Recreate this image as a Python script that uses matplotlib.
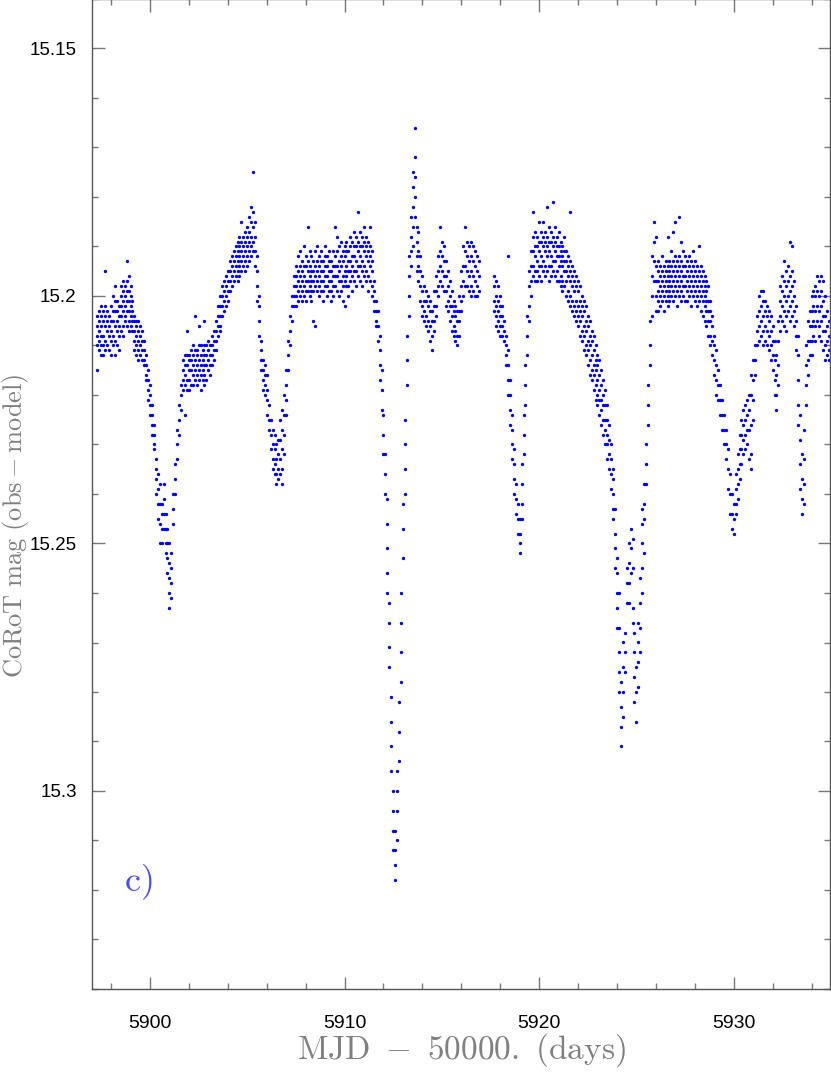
import matplotlib
matplotlib.use('Agg')
import matplotlib.pyplot as plt
from matplotlib.ticker import MultipleLocator, FuncFormatter

plt.rcParams['mathtext.fontset'] = 'cm'

# CoRoT light curve
# (t [MJD-50000], list of offsets in mmag from 15.200)
seg_5897 = [
    (5897.3, [4, 6, 8, 10, 15]), (5897.4, [3, 5, 7, 9, 11]), (5897.5, [2, 4, 6, 8, 10, 12]),
    (5897.6, [3, 5, 8, 10, 12]), (5897.7, [-5, 2, 4, 6, 9, 11]), (5897.8, [3, 5, 7, 10]),
    (5897.9, [4, 6, 8, 11]), (5898.0, [2, 5, 7, 9, 12]), (5898.1, [0, 3, 5, 8, 10]),
    (5898.2, [-2, 1, 3, 6, 9, 12]), (5898.3, [1, 3, 5, 7, 10]), (5898.4, [2, 4, 6, 8, 11]),
    (5898.5, [-2, 0, 2, 4, 7]), (5898.6, [-3, -1, 1, 3, 6, 8]), (5898.7, [-2, 0, 2, 4, 5]),
    (5898.8, [-7, -3, -1, 1, 3, 6]), (5898.9, [-4, -1, 1, 3, 5, 7]), (5899.0, [-2, 0, 2, 4, 6]),
    (5899.1, [1, 3, 5, 7]), (5899.2, [4, 5, 7, 9, 11]), (5899.3, [5, 6, 8, 10, 12]),
    (5899.4, [5, 7, 9, 11, 13]), (5899.5, [6, 8, 10, 12]), (5899.6, [7, 9, 11, 13]),
    (5899.7, [9, 11, 13, 14]), (5899.8, [12, 14, 16, 17]), (5899.9, [15, 17, 19, 21]),
    (5900.0, [18, 20, 22, 24]), (5900.1, [22, 24, 26, 28]), (5900.2, [26, 28, 30, 31]),
    (5900.3, [33, 35, 37, 40]), (5900.4, [36, 39, 42, 45]), (5900.5, [38, 42, 46, 50]),
    (5900.6, [42, 44, 47, 50]), (5900.7, [38, 41, 44, 47]), (5900.8, [44, 47, 50, 52]),
    (5900.9, [47, 50, 53, 56]), (5901.0, [50, 54, 57, 60, 63]), (5901.1, [52, 55, 58, 61]),
    (5901.2, [40, 43, 46]), (5901.3, [34, 37, 40]), (5901.4, [27, 30, 33]),
    (5901.5, [22, 25, 28]), (5901.6, [18, 20, 23]), (5901.7, [13, 15, 17, 19]),
]
seg_5902 = [
    (5901.8, [12, 14, 16, 18, 24]), (5901.9, [7, 12, 14, 17, 19]), (5902.0, [12, 13, 15, 17, 19]),
    (5902.1, [11, 13, 15, 18]), (5902.2, [10, 12, 14, 16, 18]), (5902.3, [4, 11, 13, 15, 17]),
    (5902.4, [11, 12, 14, 16, 18]), (5902.5, [6, 10, 13, 15, 17]), (5902.6, [10, 12, 14, 16, 19]),
    (5902.7, [11, 13, 15, 17]), (5902.8, [5, 10, 12, 14, 16, 18]), (5902.9, [10, 12, 14, 17]),
    (5903.0, [9, 11, 13, 15]), (5903.1, [10, 12, 14, 16]), (5903.2, [8, 10, 12, 14]),
    (5903.3, [7, 9, 11, 13]), (5903.4, [5, 7, 9, 11]), (5903.5, [2, 4, 6, 8]),
    (5903.6, [0, 2, 4, 6, 7]), (5903.7, [-2, 0, 2, 4]), (5903.8, [-3, -1, 1, 3]),
    (5903.9, [-4, -2, 0, 2]), (5904.0, [-5, -3, -1, 1]), (5904.1, [-7, -5, -3, -1]),
    (5904.2, [-8, -6, -4, -2]), (5904.3, [-9, -7, -5, -3]), (5904.4, [-10, -8, -6, -4]),
    (5904.5, [-11, -9, -7, -5, -3]), (5904.6, [-12, -10, -8, -6, -4]), (5904.7, [-15, -11, -9, -7, -5]),
    (5904.8, [-12, -10, -8, -6]), (5904.9, [-13, -11, -9, -7, -5]), (5905.0, [-14, -12, -10, -8, -6]),
    (5905.1, [-16, -13, -11, -9, -7]), (5905.2, [-18, -15, -12, -10, -8]), (5905.3, [-25, -17, -14, -11, -9]),
    (5905.4, [-15, -12, -9, -6]), (5905.5, [-8, -5, -2, 1]), (5905.6, [0, 2, 5, 8]),
    (5905.7, [9, 11, 13, 15]), (5905.8, [13, 15, 17, 19]), (5905.9, [14, 16, 18, 20]),
    (5906.0, [16, 19, 21, 24]), (5906.1, [22, 25, 27]), (5906.2, [25, 28, 31]),
    (5906.3, [27, 30, 33, 35]), (5906.4, [28, 31, 34, 36]), (5906.5, [30, 33, 36, 38]),
    (5906.6, [29, 32, 35, 37]), (5906.7, [25, 29, 33, 36]), (5906.8, [23, 27, 31, 35, 38]),
    (5906.9, [20, 24, 28, 32]), (5907.0, [15, 18, 21, 24]), (5907.1, [9, 12, 15]),
    (5907.2, [4, 7, 10]), (5907.3, [0, 2, 5]), (5907.4, [-4, -2, 0, 2]),
]
seg_5908 = [
    (5907.5, [-6, -4, -2, 0, 2]), (5907.6, [-8, -5, -3, -1, 1]), (5907.7, [-9, -6, -4, -2, 0]),
    (5907.8, [-7, -5, -3, -1, 1]), (5907.9, [-10, -6, -4, -2, 0]), (5908.0, [-8, -6, -3, -1, 1]),
    (5908.1, [-14, -7, -5, -3, -1]), (5908.2, [-9, -6, -4, -2, 0]), (5908.3, [-8, -5, -3, -1, 1]),
    (5908.4, [-7, -5, -3, -1, 5]), (5908.5, [-9, -6, -4, -2, 6]), (5908.6, [-10, -7, -5, -3, -1]),
    (5908.7, [-8, -6, -4, -2, 0]), (5908.8, [-9, -7, -5, -3, -1]), (5908.9, [-7, -5, -3, -1, 1]),
    (5909.0, [-10, -8, -6, -4, -2]), (5909.1, [-8, -6, -4, -2, 0]), (5909.2, [-9, -7, -5, -3, -1]),
    (5909.3, [-7, -5, -3, -1, 1]), (5909.4, [-9, -6, -4, -2, 0]), (5909.5, [-14, -8, -6, -4, -2]),
    (5909.6, [-12, -9, -6, -4, -1]), (5909.7, [-10, -7, -5, -3, 0]), (5909.8, [-11, -8, -6, -3, -1]),
    (5909.9, [-9, -7, -4, -2, 1]), (5910.0, [-10, -8, -5, -3, 2]), (5910.1, [-11, -9, -6, -4, -2]),
    (5910.2, [-9, -7, -5, -2, 0]), (5910.3, [-12, -10, -7, -5, -3]), (5910.4, [-11, -8, -6, -4, -1]),
    (5910.5, [-13, -10, -8, -5, -3]), (5910.6, [-12, -10, -7, -5, -2]), (5910.7, [-17, -11, -9, -6, -4]),
    (5910.8, [-13, -10, -8, -6, -3]), (5910.9, [-12, -10, -7, -5, -2]), (5911.0, [-14, -11, -9, -6, -4]),
    (5911.1, [-12, -10, -8, -5, -3]), (5911.2, [-11, -9, -7, -4, -1]), (5911.3, [-14, -10, -8, -6, -3]),
    (5911.4, [-9, -7, -5, -2, 0]), (5911.5, [-3, -1, 1, 3]), (5911.6, [1, 3, 5, 6]),
]
seg_5912 = [
    (5911.7, [3, 6, 9]), (5911.8, [8, 11, 14, 17]), (5911.9, [15, 19, 23]),
    (5912.0, [24, 28, 32]), (5912.1, [32, 36, 40]), (5912.2, [41, 46, 51, 56, 60]),
    (5912.3, [62, 66, 71, 75]), (5912.4, [81, 86, 91, 96]), (5912.5, [100, 104, 108, 112]),
    (5912.6, [108, 112, 115, 118]), (5912.7, [96, 100, 104, 110]), (5912.8, [82, 88, 94]),
    (5912.9, [60, 66, 72, 78]), (5913.0, [42, 47, 53]), (5913.1, [25, 30, 35, 40]),
    (5913.2, [8, 13, 18]), (5913.3, [-8, -4, 0, 4]), (5913.4, [-16, -12, -9, -6]),
    (5913.5, [-25, -22, -18, -14, -10]), (5913.6, [-34, -28, -24, -20, -16]), (5913.7, [-14, -11, -8, -5]),
    (5913.8, [-13, -9, -6, -3]), (5913.9, [-8, -5, -2, 1]), (5914.0, [-4, -1, 2, 4]),
    (5914.1, [-2, 1, 3, 5]), (5914.2, [-1, 1, 4, 6]), (5914.3, [0, 2, 5, 7]),
    (5914.4, [1, 3, 6, 9]), (5914.5, [3, 5, 8, 11]), (5914.6, [-1, 2, 5, 7]),
    (5914.7, [-4, -1, 2, 4]), (5914.8, [-8, -5, -2, 0]), (5914.9, [-14, -9, -6, -3]),
    (5915.0, [-11, -8, -5, -2]), (5915.1, [-10, -7, -4, -1]), (5915.2, [-7, -4, -1, 2]),
    (5915.3, [-5, -2, 1, 3]), (5915.4, [-3, 0, 2, 5]), (5915.5, [-1, 2, 4, 7]),
    (5915.6, [1, 3, 6, 8]), (5915.7, [2, 4, 7, 9]), (5915.8, [3, 5, 8, 10]),
    (5915.9, [0, 3, 5, 8]), (5916.0, [-5, -2, 1, 3]), (5916.1, [-10, -6, -3, 0]),
    (5916.2, [-14, -9, -6, -2]), (5916.3, [-11, -8, -5, -2]), (5916.4, [-10, -7, -4, -1]),
    (5916.5, [-11, -8, -5, -2, 0]), (5916.6, [-10, -7, -4, -1]), (5916.7, [-9, -6, -3, 0]),
    (5916.8, [-8, -5, -2, 0]), (5916.9, [-7, -4, -1]),
]
seg_5918 = [
    (5917.7, [-4, -2, 1, 3]), (5917.8, [-3, 0, 2, 4, 6]), (5917.9, [-2, 1, 3, 5, 7]),
    (5918.0, [0, 2, 4, 6, 8]), (5918.1, [2, 4, 6, 8]), (5918.2, [5, 7, 9]),
    (5918.3, [8, 10, 12, 14]), (5918.4, [-8, 11, 14, 17, 20]), (5918.5, [17, 20, 23, 26]),
    (5918.6, [24, 27, 30, 33]), (5918.7, [31, 34, 37, 40]), (5918.8, [38, 41, 44]),
    (5918.9, [42, 45, 48]), (5919.0, [45, 48, 50, 52]), (5919.1, [34, 38, 42, 45]),
    (5919.2, [24, 28, 32]), (5919.3, [14, 18, 22]), (5919.4, [4, 8, 12]),
    (5919.5, [-5, -2, 2, 5]), (5919.6, [-9, -6, -3, 0]), (5919.7, [-17, -12, -9, -6, -4]),
    (5919.8, [-13, -10, -8, -5, -3]), (5919.9, [-12, -10, -7, -5, -3]), (5920.0, [-15, -11, -9, -6, -4]),
    (5920.1, [-13, -11, -8, -6, -3]), (5920.2, [-15, -12, -10, -7, -5]), (5920.3, [-13, -11, -9, -6, -4]),
    (5920.4, [-18, -12, -10, -8, -5]), (5920.5, [-14, -11, -9, -6, -3]), (5920.6, [-13, -11, -8, -6, -4]),
    (5920.7, [-19, -12, -10, -7, -5]), (5920.8, [-14, -11, -9, -7, -4]), (5920.9, [-12, -10, -8, -5, -3]),
    (5921.0, [-13, -10, -8, -6, -3]), (5921.1, [-11, -9, -7, -4, -2]), (5921.2, [-10, -8, -6, -3, -1]),
    (5921.3, [-12, -9, -7, -5, -2]), (5921.4, [-9, -7, -5, -3, 0]), (5921.5, [-8, -6, -4, -1, 1]),
    (5921.6, [-17, -7, -5, -3, 0, 2]), (5921.7, [-6, -4, -2, 1, 3]), (5921.8, [-5, -3, -1, 2, 4]),
    (5921.9, [-4, -2, 1, 3, 5]), (5922.0, [-3, -1, 2, 4, 6]), (5922.1, [-2, 1, 3, 5, 8]),
    (5922.2, [0, 2, 4, 7, 9]), (5922.3, [1, 3, 6, 8, 11]), (5922.4, [2, 5, 7, 10, 12]),
    (5922.5, [4, 6, 9, 11, 14]), (5922.6, [5, 8, 10, 13, 16]), (5922.7, [7, 9, 12, 15, 17]),
    (5922.8, [8, 11, 14, 16, 19]), (5922.9, [10, 13, 15, 18, 21]), (5923.0, [12, 14, 17, 20, 22]),
    (5923.1, [13, 16, 19, 21, 24]), (5923.2, [15, 18, 21, 23, 26]), (5923.3, [17, 20, 22, 25, 28]),
    (5923.4, [19, 22, 25, 27, 30]), (5923.5, [22, 25, 28, 30, 33]), (5923.6, [26, 29, 32, 35]),
    (5923.7, [30, 33, 36, 39]), (5923.8, [35, 37, 40, 43, 45]),
]
seg_5925 = [
    (5923.9, [43, 48, 51, 55]), (5924.0, [53, 56, 60, 63, 67]), (5924.1, [60, 67, 72, 76, 80]),
    (5924.2, [78, 83, 87, 91]), (5924.3, [70, 75, 80, 85]), (5924.4, [68, 72, 76]),
    (5924.5, [55, 58, 62]), (5924.6, [50, 54, 58, 62]), (5924.7, [47, 51, 56]),
    (5924.8, [49, 55, 63, 66]), (5924.9, [68, 72, 77, 82]), (5925.0, [75, 80, 86]),
    (5925.1, [66, 70, 74, 79]), (5925.2, [57, 62, 67, 72]), (5925.3, [43, 46, 50, 55, 60]),
    (5925.4, [38, 42, 45, 52]), (5925.5, [30, 34, 38]), (5925.6, [18, 22, 26]),
    (5925.7, [5, 10, 14]), (5925.8, [-8, -4, 0, 4]), (5925.9, [-15, -11, -7, -3]),
    (5926.0, [-12, -6, -3, 0, 3]), (5926.1, [-7, -5, -3, -1, 1, 3]), (5926.2, [-6, -4, -2, 0, 2]),
    (5926.3, [-8, -5, -3, -1, 1]), (5926.4, [-6, -4, -2, 0, 3]), (5926.5, [-7, -5, -3, -1, 1]),
    (5926.6, [-12, -6, -4, -2, 0, 2]), (5926.7, [-7, -5, -3, -1, 1]), (5926.8, [-9, -6, -4, -2, 0]),
    (5926.9, [-13, -7, -5, -3, -1, 1]), (5927.0, [-15, -8, -6, -4, -2, 0]), (5927.1, [-7, -5, -3, -1, 2]),
    (5927.2, [-16, -8, -6, -4, -2, 0]), (5927.3, [-11, -7, -5, -3, -1, 1]), (5927.4, [-9, -6, -4, -2, 0]),
    (5927.5, [-8, -6, -4, -2, 1]), (5927.6, [-7, -5, -3, -1, 1]), (5927.7, [-8, -6, -4, -2, 0]),
    (5927.8, [-7, -5, -3, -1, 2]), (5927.9, [-9, -6, -4, -2, 0]), (5928.0, [-7, -5, -3, -1, 1]),
    (5928.1, [-6, -4, -2, 0, 2]), (5928.2, [-10, -5, -3, -1, 1]), (5928.3, [-6, -4, -2, 0, 3]),
    (5928.4, [-5, -3, -1, 1, 4]), (5928.5, [-4, -2, 0, 2, 5]), (5928.6, [-3, -1, 1, 3, 6]),
    (5928.7, [-2, 1, 3, 5, 8]), (5928.8, [1, 3, 5, 8, 10]), (5928.9, [4, 6, 9, 12]),
    (5929.0, [8, 10, 13, 16]), (5929.1, [11, 14, 17, 20]), (5929.2, [15, 18, 21]),
    (5929.3, [18, 21, 24]), (5929.4, [21, 24, 27]), (5929.5, [24, 27, 30]),
    (5929.6, [27, 30, 33]), (5929.7, [31, 35, 39]), (5929.8, [36, 40, 44]),
    (5929.9, [40, 44, 47]), (5930.0, [42, 45, 48]),
]
seg_5931 = [
    (5930.1, [36, 39, 42, 44]), (5930.2, [32, 35, 38, 41]), (5930.3, [28, 31, 34, 37]),
    (5930.4, [25, 28, 31, 34]), (5930.5, [23, 26, 29, 32]), (5930.6, [22, 25, 28, 31]),
    (5930.7, [21, 24, 27, 30]), (5930.8, [20, 23, 27, 33]), (5930.9, [16, 20, 26, 32, 35]),
    (5931.0, [13, 17, 21, 25]), (5931.1, [10, 13, 16]), (5931.2, [4, 7, 10]),
    (5931.3, [0, 3, 6, 9]), (5931.4, [-1, 2, 5, 8]), (5931.5, [-1, 1, 4, 7, 10]),
    (5931.6, [1, 3, 6, 9]), (5931.7, [2, 4, 7, 10]), (5931.8, [3, 5, 8, 11]),
    (5931.9, [4, 7, 10, 13]), (5932.0, [6, 9, 12, 15]), (5932.1, [9, 13, 17, 20]),
    (5932.2, [12, 16, 20, 23]), (5932.3, [5, 9, 14, 18]), (5932.4, [-2, 1, 4, 7]),
    (5932.5, [-4, -1, 2, 5]), (5932.6, [-7, -3, 0, 3, 6]), (5932.7, [-5, -2, 1, 4, 7]),
    (5932.8, [-6, -3, 0, 3]), (5932.9, [-11, -4, -1, 2, 5]), (5933.0, [-10, -5, -2, 1, 4]),
    (5933.1, [-3, 0, 3, 6]), (5933.2, [2, 5, 8, 11]), (5933.3, [8, 12, 17, 22, 26]),
    (5933.4, [24, 29, 34, 39]), (5933.5, [32, 37, 41, 44]), (5933.6, [27, 33, 38, 42]),
    (5933.7, [10, 14, 18, 22]), (5933.8, [5, 9, 13, 16]), (5933.9, [3, 6, 9, 12]),
    (5934.0, [0, 3, 6, 9, 12]), (5934.1, [-1, 2, 5, 8]), (5934.2, [-2, 0, 3, 6, 9]),
    (5934.3, [-4, -1, 2, 5]), (5934.4, [-3, 0, 3, 6, 8]), (5934.5, [-4, -1, 2, 5, 9]),
    (5934.6, [-3, 1, 4, 7, 11]), (5934.7, [0, 4, 7, 10, 13]), (5934.8, [3, 6, 9, 12]),
    (5934.9, [5, 8, 11, 13]),
]

x_ticks = [5900, 5910, 5920, 5930]
y_ticks = [15.15, 15.2, 15.25, 15.3]

# flatten columns into points
mjd = []
mag = []
for seg in [seg_5897, seg_5902, seg_5908, seg_5912, seg_5918, seg_5925, seg_5931]:
    for t, offs in seg:
        for o in offs:
            mjd.append(t)
            mag.append(15.2 + o / 1000.0)

fig = plt.figure(figsize=(8.31, 10.79), dpi=100)
ax = fig.add_axes([92 / 831, 90 / 1079, 738 / 831, 990 / 1079])

ax.plot(mjd, mag, 'o', color='#0000ff', markersize=2.4, markeredgewidth=0)

ax.set_xlim(5897.02, 5934.95)
ax.set_ylim(15.34, 15.14)

ax.set_xticks(x_ticks)
ax.set_yticks(y_ticks)
ax.xaxis.set_minor_locator(MultipleLocator(2))
ax.yaxis.set_minor_locator(MultipleLocator(0.01))
ax.yaxis.set_major_formatter(FuncFormatter(lambda v, p: '%g' % v))

for s in ax.spines.values():
    s.set_color('#555555')
    s.set_linewidth(1.0)
ax.tick_params(which='both', direction='in', top=True, right=True, color='#777777', width=1.0)
ax.tick_params(which='major', length=9)
ax.tick_params(which='minor', length=4.5)
ax.tick_params(axis='y', which='major', pad=11, labelsize=13.5)
ax.tick_params(axis='x', which='major', pad=19, labelsize=14)
for lab in ax.get_xticklabels() + ax.get_yticklabels():
    lab.set_fontfamily('Liberation Sans')

# axis titles in roman, grey
fig.text(461 / 831, 1 - 1050 / 1079, r'$\mathrm{MJD\ -\ 50000.\ (days)}$',
         ha='center', va='center', fontsize=24, color='#808080')
fig.text(16 / 831, 1 - 526 / 1079, r'$\mathrm{CoRoT\ mag\ (obs-model)}$',
         ha='center', va='center', rotation=90, fontsize=19, color='#808080')

# panel tag
ax.text(0.063, 0.108, r'$\mathrm{c)}$', transform=ax.transAxes,
        ha='center', va='center', fontsize=26, color='#4a4aff')

fig.savefig('out.png', dpi=100)
